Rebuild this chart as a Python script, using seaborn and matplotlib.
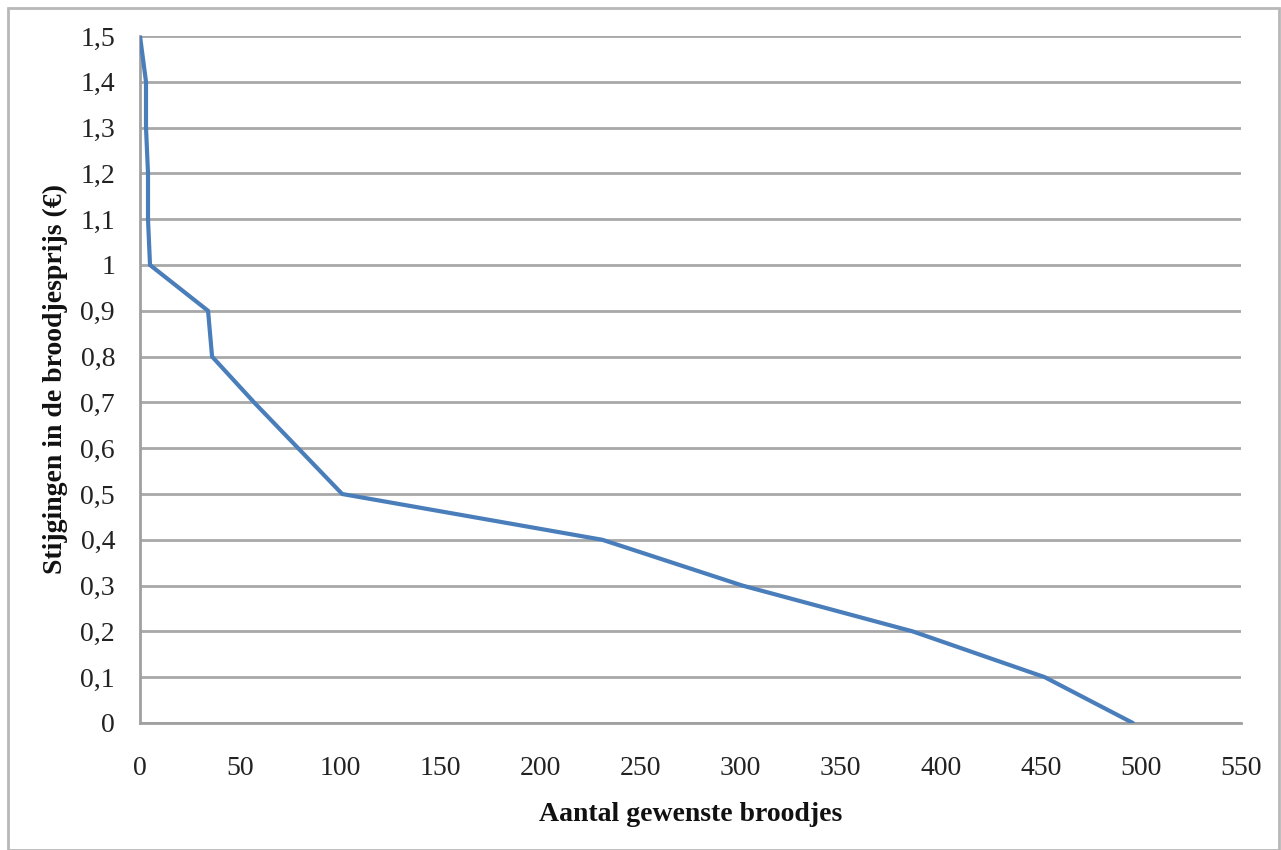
import matplotlib
matplotlib.use("Agg")
import matplotlib.pyplot as plt
import seaborn as sns
import pandas as pd
from matplotlib.patches import Rectangle

# Data
prijsstijging = [0.0, 0.1, 0.2, 0.3, 0.4, 0.5, 0.6, 0.7, 0.8, 0.9, 1.0, 1.1, 1.2, 1.3, 1.4, 1.5]
aantal_broodjes = [496, 452, 386, 301, 231, 101, 79, 57, 36, 34, 5, 4, 4, 3, 3, 0]
x_ticks = [0, 50, 100, 150, 200, 250, 300, 350, 400, 450, 500, 550]
y_ticks = [0, 0.1, 0.2, 0.3, 0.4, 0.5, 0.6, 0.7, 0.8, 0.9, 1.0, 1.1, 1.2, 1.3, 1.4, 1.5]
y_tick_labels = ["0", "0,1", "0,2", "0,3", "0,4", "0,5", "0,6", "0,7", "0,8", "0,9",
                 "1", "1,1", "1,2", "1,3", "1,4", "1,5"]

sns.set_theme(style="white")
plt.rcParams['font.family'] = ['Liberation Serif', 'DejaVu Serif']

df = pd.DataFrame({"x": aantal_broodjes, "y": prijsstijging})

fig = plt.figure(figsize=(12.81, 8.5), dpi=100)
ax = fig.add_axes([140/1281, 1 - 723/850, (1241-140)/1281, (723-36)/850])

sns.lineplot(data=df, x="x", y="y", sort=False, estimator=None, ax=ax,
             color="#4a7ebb", linewidth=3, zorder=3)

ax.set_xlim(0, 550)
ax.set_ylim(0, 1.5)
ax.set_xticks(x_ticks)
ax.set_xticklabels([str(t) for t in x_ticks])
ax.set_yticks(y_ticks)
ax.set_yticklabels(y_tick_labels)
ax.tick_params(axis='both', labelsize=20, colors="#999999", labelcolor="#222222",
               width=1.5, direction='out')
ax.tick_params(axis='x', length=5, pad=19)
ax.tick_params(axis='y', length=6, pad=12)
ax.grid(axis='y', color="#a8a8a8", linewidth=2)
ax.grid(axis='x', visible=False)
for side in ["top", "right"]:
    ax.spines[side].set_visible(False)
for side in ["left", "bottom"]:
    ax.spines[side].set_color("#a0a0a0")
    ax.spines[side].set_linewidth(2)

ax.set_xlabel("Aantal gewenste broodjes", fontsize=20, fontweight="bold", color="#111111", labelpad=15)
ax.set_ylabel("Stijgingen in de broodjesprijs (€)", fontsize=20, fontweight="bold", color="#111111", labelpad=9)

fig.patches.append(Rectangle((8/1281, 0), (1279-8)/1281, (850-8)/850,
                             transform=fig.transFigure, fill=False,
                             edgecolor="#b8b8b8", linewidth=2))

fig.savefig("out.png", dpi=100)
